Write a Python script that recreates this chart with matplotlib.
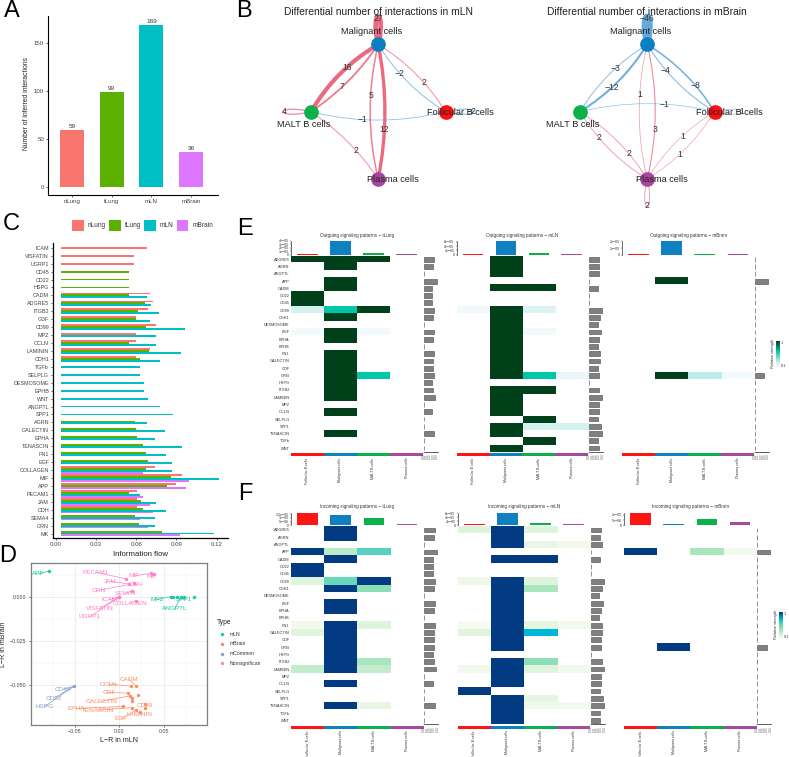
import numpy as np
import matplotlib
matplotlib.use("Agg")
import matplotlib.pyplot as plt
from matplotlib.colors import LinearSegmentedColormap
from matplotlib.patches import FancyArrowPatch, PathPatch, Rectangle
from matplotlib.path import Path

plt.rcParams["font.family"] = "Liberation Sans"

W, H = 789, 757

# panel A
groups = ["nLung", "tLung", "mLN", "mBrain"]
group_colors = ["#F8766D", "#5CB000", "#00BFC4", "#DD77FF"]
n_interactions = [59, 99, 169, 36]

# panel C
flow_names = ["ICAM", "VISFATIN", "UGRP1", "CD45", "CD22", "HSPG", "CADM", "ADGRE5", "ITGB2", "GDF",
              "CD99", "MPZ", "OCLN", "LAMININ", "CDH1", "TGFb", "SELPLG", "DESMOSOME", "EPHB", "WNT",
              "ANGPTL", "SPP1", "AGRN", "GALECTIN", "EPHA", "TENASCIN", "FN1", "EGF", "COLLAGEN", "MIF",
              "APP", "PECAM1", "JAM", "CDH", "SEMA4", "GRN", "MK"]
flow_nlung = [.0680, .0581, .0581, 0, 0, 0, .0705, .0722, .0690, .0601, .0750, .0601, .0601, .0700, .0601,
              0, 0, 0, 0, 0, 0, 0, 0, 0, 0, 0, 0, 0, .0742, .0938, .0893, .0604, .0604, .0604, 0, 0, 0]
flow_tlung = [0, 0, 0, .0549, .0549, .0549, .0549, .0663, .0616, .0599, .0673, 0, .0549, .0698, .0631,
              0, 0, 0, 0, 0, 0, 0, .0589, .0599, .0604, .0648, .0673, .0685, .0670, .0856, .0826, .0549,
              .0633, .0648, .0589, .0623, .0789]
flow_mln = [0, 0, 0, 0, 0, 0, .0683, .0712, .0772, .0705, .0967, .0745, .0745, .0930, .0779,
            .0631, .0631, .0656, .0656, .0690, .0777, .0876, .0683, .0814, .0737, .0943, .0821, .0868,
            .0863, .1217, 0, .0631, .0745, .0824, .0737, .0737, .1183]
flow_mbrain = [0, 0, 0, 0, 0, 0, 0, 0, 0, 0, 0, 0, 0, 0, 0, 0, 0, 0, 0, 0, 0, 0, 0, 0, 0, 0, 0, 0,
               .0648, .0990, .0972, .0648, .0705, .0725, .0626, .0688, .0923]

# panel D: points, then where the repelled labels sit
type_names = ["mLN", "mBrain", "mCommon", "Nonsignifican"]
type_colors = ["#1CC7A2", "#FC8D62", "#8DA0CB", "#FF80C8"]
mln_x = [-.0787, .0588, .0607, .0652, .0700, .0730, .0839]
mln_y = [.0145, 0, 0, 0, 0, 0, 0]
mbrain_x = [.0191, .0135, .0094, .0127, .0213, .0146, .0146, .0045, .0146, .0292, .0292, .0184, .0232]
mbrain_y = [-.0508, -.0508, -.0547, -.0562, -.0558, -.0574, -.0594, -.0623, -.0630, -.0608, -.0632, -.0645, -.0657]
common_x = [-.0509]
common_y = [-.0508]
nonsig_x = [.0082, .0356, .0393, .0116, .0169, .0146, .0191, 0, 0, 0]
nonsig_y = [.0100, .0132, .0130, .0072, .0075, .0034, -.0023, 0, -.0002, -.0004]
# name, type, point x, point y, label x, label y
repel_labels = [
    ("APP", 0, -.0787, .0145, -.0910, .0128), ("MPZ", 0, .0588, 0, .0427, -.0017),
    ("SPP1", 0, .0730, 0, .0727, -.0017), ("ANGPTL", 0, .0700, 0, .0629, -.0066),
    ("CADM", 1, .0191, -.0508, .0116, -.0470), ("OCLN", 1, .0135, -.0508, -.0124, -.0496),
    ("GDF", 1, .0094, -.0547, -.0116, -.0543), ("GALECTIN", 1, .0127, -.0562, -.0199, -.0594),
    ("EPHA", 1, .0045, -.0623, -.0487, -.0634), ("TENASCIN", 1, .0146, -.0630, -.0240, -.0643),
    ("CD99", 1, .0292, -.0608, .0288, -.0617), ("EGF", 1, .0184, -.0645, .0026, -.0691),
    ("LAMININ", 1, .0232, -.0657, .0232, -.0668), ("CD45", 2, -.0509, -.0508, -.0629, -.0526),
    ("CD22", 2, -.0509, -.0508, -.0734, -.0575), ("HSPG", 2, -.0509, -.0508, -.0839, -.0623),
    ("PECAM1", 3, .0082, .0100, -.0266, .0138), ("MIF", 3, .0356, .0132, .0169, .0117),
    ("MK", 3, .0393, .0130, .0363, .0113), ("JAM", 3, .0116, .0072, -.0105, .0085),
    ("CDH", 3, .0169, .0075, .0199, .0068), ("GRN", 3, .0116, .0068, -.0225, .0036),
    ("SEMA4", 3, .0146, .0034, .0067, .0017), ("COLLAGEN", 3, .0191, -.0023, .0116, -.0040),
    ("ICAM", 3, 0, 0, -.0105, -.0017), ("VISFATIN", 3, 0, -.0002, -.0217, -.0066),
    ("UGRP1", 3, 0, -.0004, -.0330, -.0115),
]

# panel B: source, target, value, curvature, line width, where the number sits along the edge
cell_names = ["Malignant cells", "MALT B cells", "Follicular B cells", "Plasma cells"]
cell_colors = ["#0C7FC0", "#0DB14B", "#FF1010", "#A8459F"]
cell_xy = [(0, 1), (-1, 0), (1, 0), (0, -1)]
label_shift = [(-.104, .193), (-.109, -.193), (.218, -.01), (.223, 0)]
edges_mln = [(0, 1, 16, .13, 3.0, .40), (0, 1, 7, -.10, 1.3, .58), (0, 2, -2, .12, .7, .38), (0, 2, 2, -.12, .7, .62),
             (0, 3, 5, .12, 1.1, .38), (0, 3, 12, -.10, 2.4, .63), (1, 2, -1, .125, .6, .38), (1, 3, 2, -.10, .7, .62)]
loops_mln = [(0, 27, (0, 1), 3.4), (1, 4, (-1, 0), .9), (2, -2, (1, 0), .8)]
edges_mbrain = [(0, 1, -3, .12, .7, .42), (0, 1, -12, -.12, 1.5, .58), (0, 2, -4, .12, .8, .33), (0, 2, -8, -.12, 1.2, .67),
                (0, 3, 1, .12, .5, .37), (0, 3, 3, -.12, .8, .63), (1, 2, -1, -.12, .5, .63), (1, 3, 2, .12, .6, .33),
                (1, 3, 2, -.12, .6, .67), (2, 3, 1, .12, .45, .42), (2, 3, 1, -.12, .45, .58)]
loops_mbrain = [(0, -46, (0, 1), 4.4), (2, -1, (1, 0), .5), (3, 2, (0, -1), .6)]

# panels E and F
rows = ["ADGRE5", "AGRN", "ANGPTL", "APP", "CADM", "CD22", "CD45", "CD99", "CDH1", "DESMOSOME", "EGF", "EPHA",
        "EPHB", "FN1", "GALECTIN", "GDF", "GRN", "HSPG", "ITGB2", "LAMININ", "MPZ", "OCLN", "SELPLG", "SPP1",
        "TENASCIN", "TGFb", "WNT"]
cols = ["Follicular B cells", "Malignant cells", "MALT B cells", "Plasma cells"]
annot_colors = ["#FF1414", "#0F80C0", "#0DB14B", "#A848A0"]

out_tlung = {"ADGRE5": [1, 1, 1, 0], "AGRN": [0, 1, 0, 0], "APP": [0, 1, 0, 0], "CADM": [0, 1, 0, 0],
             "CD22": [1, 0, 0, 0], "CD45": [1, 0, 0, 0], "CD99": [.25, .65, 1, 0], "CDH1": [0, 1, 0, 0],
             "EGF": [.06, 1, .06, 0], "EPHA": [0, 1, 0, 0], "FN1": [0, 1, 0, 0], "GALECTIN": [0, 1, 0, 0],
             "GDF": [0, 1, 0, 0], "GRN": [0, 1, .65, 0], "HSPG": [0, 1, 0, 0], "ITGB2": [0, 1, 0, 0],
             "LAMININ": [0, 1, 0, 0], "OCLN": [0, 1, 0, 0], "TENASCIN": [0, 1, 0, 0]}
out_tlung_side = [.031, .027, 0, .039, .025, .025, .025, .031, .029, 0, .032, .027, 0, .031, .027, .027, .030,
                  .025, .029, .033, 0, .025, 0, 0, .030, 0, 0]
out_tlung_top = [.28e-5, 3.9e-5, .35e-5, .1e-5]

out_mln = {"ADGRE5": [0, 1, 0, 0], "AGRN": [0, 1, 0, 0], "ANGPTL": [0, 1, 0, 0], "CADM": [0, 1, 1, 0],
           "CD99": [.08, 1, .2, 0], "CDH1": [0, 1, 0, 0], "DESMOSOME": [0, 1, 0, 0], "EGF": [0, 1, .07, 0],
           "EPHA": [0, 1, 0, 0], "EPHB": [0, 1, 0, 0], "FN1": [0, 1, 0, 0], "GALECTIN": [0, 1, 0, 0],
           "GDF": [0, 1, 0, 0], "GRN": [0, 1, .65, .12], "ITGB2": [0, 1, 1, 0], "LAMININ": [0, 1, 0, 0],
           "MPZ": [0, 1, 0, 0], "OCLN": [0, 1, 0, 0], "SELPLG": [0, 0, 1, 0], "SPP1": [0, 1, .25, .25],
           "TENASCIN": [0, 1, 0, 0], "TGFb": [0, 0, 1, 0], "WNT": [0, 1, 0, 0]}
out_mln_side = [.028, .028, .030, 0, .027, 0, 0, .039, .031, .025, .034, .029, .025, .033, .033, .027, .029, 0,
                .030, .037, .030, .030, .025, .035, .037, .025, .028]
out_mln_top = [.2e-5, 6.3e-5, .6e-5, .2e-5]

out_mbrain = {"APP": [0, 1, 0, 0], "GRN": [0, 1, .3, .06]}
out_mbrain_side = [0, 0, 0, .038, 0, 0, 0, 0, 0, 0, 0, 0, 0, 0, 0, 0, .027, 0, 0, 0, 0, 0, 0, 0, 0, 0, 0]
out_mbrain_top = [.05e-5, 2.05e-5, .06e-5, .05e-5]

in_tlung = {"ADGRE5": [0, 1, 0, 0], "AGRN": [0, 1, 0, 0], "APP": [1, .3, .6, 0], "CADM": [0, 1, 0, 0],
            "CD22": [1, 0, 0, 0], "CD45": [1, 0, 0, 0], "CD99": [.2, .55, 1, 0], "CDH1": [0, 1, .45, 0],
            "EGF": [0, 1, 0, 0], "EPHA": [0, 1, 0, 0], "FN1": [.06, 1, .2, 0], "GALECTIN": [.18, 1, 0, 0],
            "GDF": [0, 1, 0, 0], "GRN": [0, 1, 0, 0], "HSPG": [0, 1, 0, 0], "ITGB2": [0, 1, .35, 0],
            "LAMININ": [.28, 1, .28, 0], "OCLN": [0, 1, 0, 0], "TENASCIN": [0, 1, .15, 0]}
in_tlung_side = [.031, .028, 0, .041, .025, .025, .025, .031, .030, 0, .033, .028, 0, .031, .028, .028, .030,
                 .025, .029, .034, 0, .025, 0, 0, .031, 0, 0]
in_tlung_top = [1.7e-5, 1.35e-5, 1.0e-5, .12e-5]

in_mln = {"ADGRE5": [.2, 1, .2, 0], "AGRN": [0, 1, 0, 0], "ANGPTL": [0, 1, .12, .06], "CADM": [0, 1, 1, 0],
          "CD99": [.1, 1, .2, 0], "CDH1": [0, 1, .35, 0], "DESMOSOME": [0, 1, 0, 0], "EGF": [0, 1, 0, 0],
          "EPHA": [0, 1, 0, 0], "EPHB": [0, 1, 0, 0], "FN1": [.04, 1, .15, .06], "GALECTIN": [.18, 1, .75, 0],
          "GDF": [0, 1, 0, 0], "GRN": [0, 1, 0, 0], "ITGB2": [0, 1, .45, 0], "LAMININ": [.08, 1, .2, .06],
          "MPZ": [0, 1, 0, 0], "OCLN": [0, 1, 0, 0], "SELPLG": [1, 0, 0, 0], "SPP1": [0, 1, .15, 0],
          "TENASCIN": [0, 1, .08, .06], "TGFb": [0, 1, 0, 0], "WNT": [0, 1, 0, 0]}
in_mln_side = [.028, .027, .031, 0, .027, 0, 0, .038, .031, .024, .034, .028, .024, .032, .032, .028, .029, 0,
               .031, .037, .030, .030, .025, .035, .037, .025, .027]
in_mln_top = [.4e-5, 6.2e-5, .9e-5, .4e-5]

in_mbrain = {"APP": [1, 0, .35, .06], "GRN": [0, 1, 0, 0]}
in_mbrain_side = [0, 0, 0, .040, 0, 0, 0, 0, 0, 0, 0, 0, 0, 0, 0, 0, .028, 0, 0, 0, 0, 0, 0, 0, 0, 0, 0]
in_mbrain_top = [1.2e-5, .1e-5, .6e-5, .35e-5]

green_map = LinearSegmentedColormap.from_list("out", [(0, "#FFFFFF"), (.04, "#F5FCFD"), (.25, "#D5F1F0"),
                                                      (.65, "#00C8A8"), (1, "#00401A")])
blue_map = LinearSegmentedColormap.from_list("in", [(0, "#FFFFFF"), (.05, "#F4FBEF"), (.2, "#DFF4DC"), (.35, "#A9E6BE"),
                                                    (.45, "#8DE0B4"), (.6, "#55D3C0"), (.75, "#00B8D8"), (1, "#033B82")])

fig = plt.figure(figsize=(W / 100, H / 100), dpi=100)


def px_axes(x0, y0, x1, y1):
    return fig.add_axes([x0 / W, 1 - y1 / H, (x1 - x0) / W, (y1 - y0) / H])


# overlay in pixels for panel letters and the hand placed legends
ov = fig.add_axes([0, 0, 1, 1], zorder=10)
ov.set_xlim(0, W)
ov.set_ylim(H, 0)
ov.axis("off")
for letter, lx, ly in [("A", 12, 11), ("B", 244, 11), ("C", 11, 224), ("D", 8, 556), ("E", 245, 229), ("F", 245, 494)]:
    ov.text(lx, ly, letter, fontsize=17, ha="center", va="center", color="black")


# ---- A ----
ax = px_axes(48.3, 16, 218, 195)
ax.bar(range(4), n_interactions, width=.6, color=group_colors)
for i, v in enumerate(n_interactions):
    ax.text(i, v + 1, str(v), ha="center", va="bottom", fontsize=4.6, color="#333333")
ax.set_xlim(-.6, 3.68)
ax.set_ylim(-8.3, 178)
ax.set_xticks(range(4), groups)
ax.set_yticks([0, 50, 100, 150])
ax.set_ylabel("Number of inferred interactions", fontsize=4.9, color="#222222")
ax.yaxis.set_label_coords(-.108, .51)
ax.tick_params(labelsize=4.4, labelcolor="#444444", length=1.5, width=.4, pad=1.5)
ax.spines[["top", "right"]].set_visible(False)
ax.spines[["left", "bottom"]].set_linewidth(.8)


# ---- B ----
def curve_point(a, b, rad, t):
    mx, my = (a[0] + b[0]) / 2, (a[1] + b[1]) / 2
    dx, dy = b[0] - a[0], b[1] - a[1]
    c = (mx + rad * dy, my - rad * dx)
    x = (1 - t) ** 2 * a[0] + 2 * t * (1 - t) * c[0] + t ** 2 * b[0]
    y = (1 - t) ** 2 * a[1] + 2 * t * (1 - t) * c[1] + t ** 2 * b[1]
    return x, y


def edge_color(value):
    return "#E8506A" if value > 0 else "#4A9BD4"


def edge_alpha(width):
    return min(.85, .5 + width * .2)


def draw_network(cx, title, edges, loops):
    unit = 67.3
    ax = px_axes(cx - 1.75 * unit, 111.7 - 1.75 * unit, cx + 1.75 * unit, 111.7 + 1.75 * unit)
    ax.set_xlim(-1.75, 1.75)
    ax.set_ylim(-1.75, 1.75)
    ax.axis("off")
    for src, dst, value, rad, lw, t in edges:
        a, b = cell_xy[src], cell_xy[dst]
        ax.add_patch(FancyArrowPatch(a, b, connectionstyle=f"arc3,rad={rad}", arrowstyle="-", lw=lw,
                                     color=edge_color(value), alpha=edge_alpha(lw), shrinkA=0, shrinkB=0, clip_on=False))
        lx, ly = curve_point(a, b, rad, t)
        ax.text(lx, ly, str(value).replace("-", "\u2212"), fontsize=6.2, ha="center", va="center", color="#333333", zorder=6)
    for node, value, (ux, uy), lw in loops:
        nx, ny = cell_xy[node]
        size, half = .55, .13
        verts = [(nx, ny), (nx + ux * size - uy * half, ny + uy * size + ux * half),
                 (nx + ux * size + uy * half, ny + uy * size - ux * half), (nx, ny)]
        ax.add_patch(PathPatch(Path(verts, [Path.MOVETO, Path.CURVE4, Path.CURVE4, Path.CURVE4]), fill=False,
                               lw=lw, edgecolor=edge_color(value), alpha=edge_alpha(lw), clip_on=False))
        ax.text(nx + ux * .39, ny + uy * .39, str(value).replace("-", "\u2212"), fontsize=6.2, ha="center",
                va="center", color="#333333", zorder=6)
    for i in range(4):
        ax.scatter(*cell_xy[i], s=112, color=cell_colors[i], zorder=4, linewidths=0, clip_on=False)
        ax.text(cell_xy[i][0] + label_shift[i][0], cell_xy[i][1] + label_shift[i][1], cell_names[i], fontsize=6.6,
                ha="center", va="center", color="#222222", zorder=7)
    ov.text(cx, 11.7, title, fontsize=7.4, ha="center", va="center", color="#222222")


draw_network(378.2, "Differential number of interactions in mLN", edges_mln, loops_mln)
draw_network(647.2, "Differential number of interactions in mBrain", edges_mbrain, loops_mbrain)


# ---- C ----
ax = px_axes(53.3, 243, 228, 538)
flows = [flow_nlung, flow_tlung, flow_mln, flow_mbrain]
bar_start = .0037  # bars in the original start a little right of the 0 tick
thick = .235
for i in range(len(flow_names)):
    present = [g for g in range(4) if flows[g][i] > 0]
    for k, g in enumerate(present):
        y = i + (k - (len(present) - 1) / 2) * thick
        ax.barh(y, flows[g][i] - bar_start, left=bar_start, height=thick, color=group_colors[g])
ax.set_xlim(-.0018, .1284)
ax.set_ylim(36.56, -.6)
ax.set_yticks(range(len(flow_names)), flow_names)
ax.set_xticks([0, .03, .06, .09, .12], ["0.00", "0.03", "0.06", "0.09", "0.12"])
ax.set_xlabel("Information flow", fontsize=5.6, color="#222222")
ax.xaxis.set_label_coords(.497, -.044)
ax.tick_params(labelsize=3.9, labelcolor="#444444", length=1.5, width=.4, pad=1.5)
ax.tick_params(axis="x", labelsize=4.4)
ax.spines[["top", "right"]].set_visible(False)
ax.spines[["left", "bottom"]].set_linewidth(.9)
for key_x, text_x, name, color in zip([72.3, 109.3, 144.3, 176.7], [88, 124.7, 159.7, 192.7], groups, group_colors):
    ov.add_patch(Rectangle((key_x, 220), 11.7, 11.3, color=color, lw=0))
    ov.text(text_x, 225.7, name, fontsize=4.7, va="center", color="#333333")


# ---- D ----
ax = px_axes(30.7, 562.7, 207, 725)
ax.set_xlim(-.0996, .0989)
ax.set_ylim(-.0728, .0192)
ax.set_xticks([-.05, 0, .05], ["\u22120.05", "0.00", "0.05"])
ax.set_yticks([0, -.025, -.05], ["0.000", "\u22120.025", "\u22120.050"])
ax.set_xticks([-.075, -.025, .025, .075], minor=True)
ax.set_yticks([.0125, -.0125, -.0375, -.0625], minor=True)
ax.grid(which="major", color="#EBEBEB", lw=.6)
ax.grid(which="minor", color="#F2F2F2", lw=.35)
ax.set_axisbelow(True)
ax.tick_params(which="minor", length=0)
ax.tick_params(labelsize=3.8, labelcolor="#444444", length=1.5, width=.4, pad=1.5)
ax.set_xlabel("L\u2212R in mLN", fontsize=5, color="#222222")
ax.set_ylabel("L\u2212R in mBrain", fontsize=5, color="#222222")
ax.xaxis.set_label_coords(.5, -.075)
ax.yaxis.set_label_coords(-.134, .5)
for s in ax.spines.values():
    s.set_color("#7F7F7F")
    s.set_linewidth(.9)
for px_, py_, c in zip([mln_x, mbrain_x, common_x, nonsig_x], [mln_y, mbrain_y, common_y, nonsig_y], type_colors):
    ax.scatter(px_, py_, s=6, color=c, linewidths=0, zorder=3)
for name, t, px_, py_, lx, ly in repel_labels:
    ax.plot([px_, lx], [py_, ly], color=type_colors[t], lw=.5, zorder=2)
    ax.text(lx, ly, name, fontsize=4.6, ha="center", va="center", color=type_colors[t], zorder=4)
ov.text(217, 623, "Type", fontsize=4.8, va="center", color="#222222")
for i, name in enumerate(type_names):
    ov.scatter(222, 634 + i * 9.8, s=6, color=type_colors[i], linewidths=0)
    ov.text(230, 634 + i * 9.8, name, fontsize=3.7, va="center", color="#333333")


# ---- E, F ----
def heatmap_panel(x0, x1, y0, y1, side_x, top_y0, title_y, title, values, side, top, cmap, top_ticks, top_labels, row_labels):
    matrix = np.array([values.get(r, [0, 0, 0, 0]) for r in rows], dtype=float)
    ax = px_axes(x0, y0, x1, y1)
    ax.imshow(matrix, cmap=cmap, vmin=0, vmax=1, aspect="auto", interpolation="nearest")
    ax.set_xticks([])
    if row_labels:
        ax.set_yticks(range(len(rows)), rows)
        ax.tick_params(axis="y", length=0, labelsize=2.8, labelcolor="#333333", pad=1)
    else:
        ax.set_yticks([])
    for s in ax.spines.values():
        s.set_visible(False)

    an = px_axes(x0, y1 + 1.5, x1, y1 + 4.5)
    an.bar(range(4), [1] * 4, width=1, color=annot_colors)
    an.set_xlim(-.5, 3.5)
    an.set_ylim(0, 1)
    an.set_yticks([])
    an.set_xticks(range(4), cols, rotation=90)
    an.tick_params(axis="x", length=0, labelsize=2.6, labelcolor="#333333", pad=1.2)
    for s in an.spines.values():
        s.set_visible(False)

    tp = px_axes(x0, top_y0, x1, y0 - 1)
    tp.bar(range(4), top, width=.62, color=annot_colors)
    tp.set_xlim(-.5, 3.5)
    tp.set_ylim(0, max(top))
    tp.set_xticks([])
    tp.set_yticks(top_ticks, top_labels)
    tp.tick_params(axis="y", labelsize=2.6, labelcolor="#333333", length=1, width=.3, pad=.6)
    tp.spines[["top", "right", "bottom"]].set_visible(False)
    tp.spines["left"].set_linewidth(.4)

    sd = px_axes(side_x, y0, side_x + 14, y1)
    sd.barh(range(len(rows)), side, height=.66, color="#808080", edgecolor="#555555", linewidth=.45)
    sd.set_xlim(0, .042)
    sd.set_ylim(len(rows) - .5, -.5)
    sd.set_yticks([])
    sd.set_xticks([0, .01, .02, .03, .04], ["0.00", "0.01", "0.02", "0.03", "0.04"], rotation=90)
    sd.tick_params(axis="x", labelsize=2, labelcolor="#555555", length=1, width=.3, pad=.5)
    sd.spines[["top", "right", "left"]].set_visible(False)
    sd.spines["bottom"].set_linewidth(.4)

    ov.text((x0 + x1) / 2, title_y, title, fontsize=3.3, ha="center", va="center", color="#333333")


heatmap_panel(291, 423, 255.7, 451.7, 423.7, 241, 236, "Outgoing signaling patterns \u2212 tLung", out_tlung, out_tlung_side,
              out_tlung_top, green_map, [0, 1e-5, 2e-5, 3e-5, 3.9e-5], ["0", "1e\u221205", "2e\u221205", "3e\u221205", "4e\u221205"], True)
heatmap_panel(456.7, 588, 255.7, 451.7, 589.3, 241, 236, "Outgoing signaling patterns \u2212 mLN", out_mln, out_mln_side,
              out_mln_top, green_map, [0, 2e-5, 4e-5, 6e-5], ["0", "2e\u221205", "4e\u221205", "6e\u221205"], False)
heatmap_panel(622, 754.3, 255.7, 451.7, 755, 241, 236, "Outgoing signaling patterns \u2212 mBrain", out_mbrain, out_mbrain_side,
              out_mbrain_top, green_map, [0, 1e-5, 2e-5], ["0", "1e\u221205", "2e\u221205"], False)
heatmap_panel(291, 423.7, 526.3, 724, 424.3, 512.7, 506.7, "Incoming signaling patterns \u2212 tLung", in_tlung, in_tlung_side,
              in_tlung_top, blue_map, [0, 5e-6, 1e-5, 1.5e-5], ["0", "5e\u221206", "1e\u221205", "1.5e\u221205"], True)
heatmap_panel(457.7, 590.3, 526.3, 724, 591.3, 512.7, 506.7, "Incoming signaling patterns \u2212 mLN", in_mln, in_mln_side,
              in_mln_top, blue_map, [0, 2e-5, 4e-5, 6e-5], ["0", "2e\u221205", "4e\u221205", "6e\u221205"], False)
heatmap_panel(624, 756.7, 526.3, 724, 757.3, 512.7, 506.7, "Incoming signaling patterns \u2212 mBrain", in_mbrain, in_mbrain_side,
              in_mbrain_top, blue_map, [0, 5e-6, 1e-5], ["0", "5e\u221206", "1e\u221205"], False)


def colorbar(x0, y0, x1, y1, cmap):
    cb = px_axes(x0, y0, x1, y1)
    cb.imshow(np.linspace(1, .1, 100).reshape(-1, 1), cmap=cmap, vmin=0, vmax=1, aspect="auto")
    cb.axis("off")
    ov.text(x0 - 3, (y0 + y1) / 2, "Relative strength", rotation=90, fontsize=2.8, ha="center", va="center", color="#333333")
    ov.text(x1 + 1.5, y0 + 2, "1", fontsize=2.8, va="center", color="#333333")
    ov.text(x1 + 1.5, y1 - 1, "0.1", fontsize=2.8, va="center", color="#333333")


colorbar(775.7, 340.7, 779.3, 366.7, green_map)
colorbar(779, 611.7, 782.3, 637.7, blue_map)

fig.savefig("out.png", dpi=100)
